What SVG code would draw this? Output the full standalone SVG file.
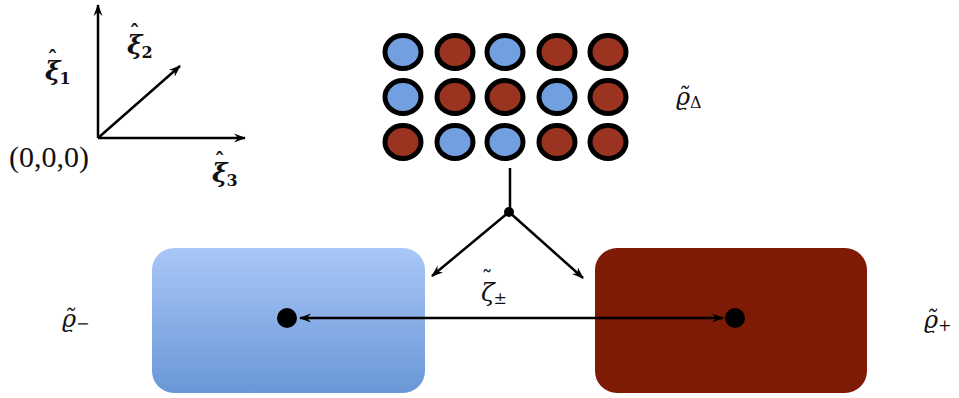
<svg xmlns="http://www.w3.org/2000/svg" width="959" height="398" viewBox="0 0 959 398">
<style>
.ln{stroke:#000;stroke-width:2.5;fill:none}
.cb{fill:#729fe0;stroke:#000;stroke-width:5}
.cr{fill:#9a3320;stroke:#000;stroke-width:5}
text{fill:#111}
</style>
<defs>
<marker id="ah" viewBox="0 0 12 10" refX="11" refY="5" markerWidth="12" markerHeight="10" markerUnits="userSpaceOnUse" orient="auto">
<path d="M0,0.5 L12,5 L0,9.5 L4,5 z" fill="#000"/>
</marker>
<marker id="ahs" viewBox="0 0 12 10" refX="11" refY="5" markerWidth="12" markerHeight="10" markerUnits="userSpaceOnUse" orient="auto-start-reverse">
<path d="M0,0.5 L12,5 L0,9.5 L4,5 z" fill="#000"/>
</marker>
<linearGradient id="gb" x1="0" y1="0" x2="0" y2="1">
<stop offset="0" stop-color="#a9c7f7"/>
<stop offset="1" stop-color="#6a97d8"/>
</linearGradient>
</defs>

<g id="axes">
<line class="ln" x1="98" y1="138" x2="98" y2="5" marker-end="url(#ah)"/>
<line class="ln" x1="98" y1="138" x2="245" y2="138" marker-end="url(#ah)"/>
<line class="ln" x1="98" y1="138" x2="180" y2="66" marker-end="url(#ah)"/>
<text font-family="DejaVu Serif, serif" font-style="italic" font-weight="bold" x="45" y="80" font-size="26">ξ<tspan font-style="normal" font-size="20" dx="-13" dy="-14">ˆ</tspan><tspan font-style="normal" font-size="16" dx="2" dy="18">1</tspan></text>
<text font-family="DejaVu Serif, serif" font-style="italic" font-weight="bold" x="127" y="54" font-size="26">ξ<tspan font-style="normal" font-size="20" dx="-13" dy="-14">ˆ</tspan><tspan font-style="normal" font-size="16" dx="2" dy="18">2</tspan></text>
<text font-family="DejaVu Serif, serif" font-style="italic" font-weight="bold" x="212" y="182" font-size="26">ξ<tspan font-style="normal" font-size="20" dx="-13" dy="-14">ˆ</tspan><tspan font-style="normal" font-size="16" dx="2" dy="18">3</tspan></text>
<text font-family="Liberation Serif, serif" x="9" y="167" font-size="30">(0,0,0)</text>
</g>

<g id="lattice">
<ellipse class="cb" cx="403" cy="52" rx="18" ry="16.5"/>
<ellipse class="cr" cx="455" cy="52" rx="18" ry="16.5"/>
<ellipse class="cb" cx="505" cy="52" rx="18" ry="16.5"/>
<ellipse class="cr" cx="557" cy="52" rx="18" ry="16.5"/>
<ellipse class="cr" cx="608" cy="52" rx="18" ry="16.5"/>
<ellipse class="cb" cx="403" cy="97" rx="18" ry="16.5"/>
<ellipse class="cr" cx="455" cy="97" rx="18" ry="16.5"/>
<ellipse class="cr" cx="505" cy="97" rx="18" ry="16.5"/>
<ellipse class="cb" cx="557" cy="97" rx="18" ry="16.5"/>
<ellipse class="cr" cx="608" cy="97" rx="18" ry="16.5"/>
<ellipse class="cr" cx="403" cy="142" rx="18" ry="16.5"/>
<ellipse class="cb" cx="455" cy="142" rx="18" ry="16.5"/>
<ellipse class="cb" cx="505" cy="142" rx="18" ry="16.5"/>
<ellipse class="cr" cx="557" cy="142" rx="18" ry="16.5"/>
<ellipse class="cr" cx="608" cy="142" rx="18" ry="16.5"/>
<text font-family="DejaVu Serif, serif" font-style="italic" x="676" y="105" font-size="24">ϱ̃<tspan font-style="normal" font-size="16" dy="3">Δ</tspan></text>
</g>

<g id="minus">
<rect x="152" y="248" width="273" height="145" rx="22" fill="url(#gb)"/>
<circle cx="287" cy="318" r="10" fill="#000"/>
<text font-family="DejaVu Serif, serif" font-style="italic" x="62" y="327" font-size="24">ϱ̃<tspan font-style="normal" font-size="16" dy="2">−</tspan></text>
</g>

<g id="plus">
<rect x="595" y="248" width="272" height="145" rx="22" fill="#7e1a05"/>
<circle cx="735" cy="318" r="10" fill="#000"/>
<text font-family="DejaVu Serif, serif" font-style="italic" x="924" y="328" font-size="24">ϱ̃<tspan font-style="normal" font-size="16" dy="3">+</tspan></text>
</g>

<g id="connectors">
<line class="ln" x1="510" y1="168" x2="510" y2="212"/>
<circle cx="509" cy="212" r="5" fill="#000"/>
<line class="ln" x1="509" y1="212" x2="432" y2="276" marker-end="url(#ah)"/>
<line class="ln" x1="509" y1="212" x2="583" y2="278" marker-end="url(#ah)"/>
<line class="ln" x1="300" y1="318" x2="723" y2="318" marker-start="url(#ahs)" marker-end="url(#ah)"/>
<text font-family="DejaVu Serif, serif" font-style="italic" x="481" y="301" font-size="25">ζ<tspan font-style="normal" font-size="22" dx="-13" dy="-14">˜</tspan><tspan font-style="normal" font-size="16" dx="1" dy="17">±</tspan></text>
</g>
</svg>
